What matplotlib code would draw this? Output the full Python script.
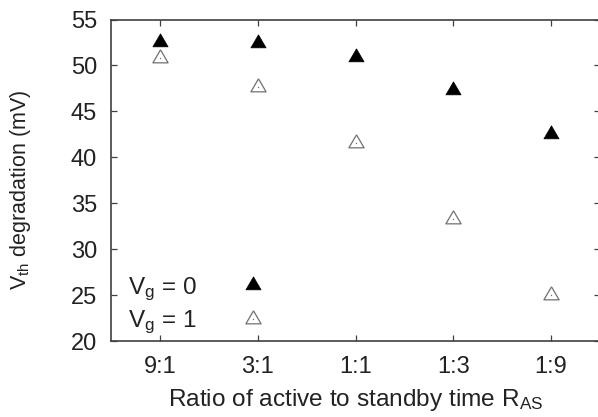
import matplotlib
matplotlib.use('Agg')
import matplotlib.pyplot as plt
from matplotlib.legend_handler import HandlerTuple

plt.rcParams['font.family'] = ['Liberation Sans', 'DejaVu Sans']
plt.rcParams['mathtext.fontset'] = 'custom'
plt.rcParams['mathtext.rm'] = 'Liberation Sans'
plt.rcParams['mathtext.it'] = 'Liberation Sans:italic'

ratios = ['9:1', '3:1', '1:1', '1:3', '1:9']
vg0 = [52.6, 52.4, 50.9, 47.3, 42.5]
vg1 = [50.8, 47.7, 41.6, 33.3, 25.0]

# gnuplot-style triangle, centred on its centroid
tri = [(0, 2), (-1.75, -1), (1.75, -1), (0, 2)]

fig = plt.figure(figsize=(5.98, 4.17), dpi=100)
ax = fig.add_axes([111 / 598, 76 / 417, 489 / 598, 321.5 / 417])

x = list(range(1, len(ratios) + 1))
h0, = ax.plot(x, vg0, linestyle='none', marker=tri, markersize=12.5,
              markerfacecolor='black', markeredgecolor='black', markeredgewidth=0.5)
h1, = ax.plot(x, vg1, linestyle='none', marker=tri, markersize=12.5,
              markerfacecolor='white', markeredgecolor='#707070', markeredgewidth=0.9)
d1, = ax.plot(x, vg1, linestyle='none', marker='o', markersize=1.0,
              markerfacecolor='#707070', markeredgecolor='#707070', markeredgewidth=0)

ax.set_xlim(0.5, 5.5)
ax.set_ylim(20, 55)
ax.set_xticks(x)
ax.set_xticklabels(ratios)
ax.set_yticks([20, 25, 30, 35, 40, 45, 50, 55])

for s in ax.spines.values():
    s.set_color('#404040')
    s.set_linewidth(1.2)

fs = 17
ax.tick_params(direction='in', length=4, width=0.9, color='#404040',
               top=True, right=True, labelsize=fs, labelcolor='#222222')
ax.tick_params(axis='x', pad=11)
ax.tick_params(axis='y', pad=10)

ax.set_xlabel(r'Ratio of active to standby time R$_{\rm AS}$', fontsize=17.6,
              color='#222222', labelpad=6)
ax.set_ylabel(r'V$_{\rm th}$ degradation (mV)', fontsize=15.5, color='#222222')
ax.yaxis.set_label_coords(-0.16, 0.47)

leg = ax.legend([h0, (h1, d1)], [r'V$_{\rm g}$ = 0', r'V$_{\rm g}$ = 1'],
                handler_map={tuple: HandlerTuple(ndivide=1, pad=0)},
                loc='lower left', bbox_to_anchor=(0.015, -0.015), frameon=False,
                markerfirst=False, fontsize=17.5, handlelength=1.2,
                handletextpad=1.7, labelspacing=0.25, borderaxespad=0)
for t in leg.get_texts():
    t.set_color('#222222')

fig.savefig('out.png', dpi=100)
